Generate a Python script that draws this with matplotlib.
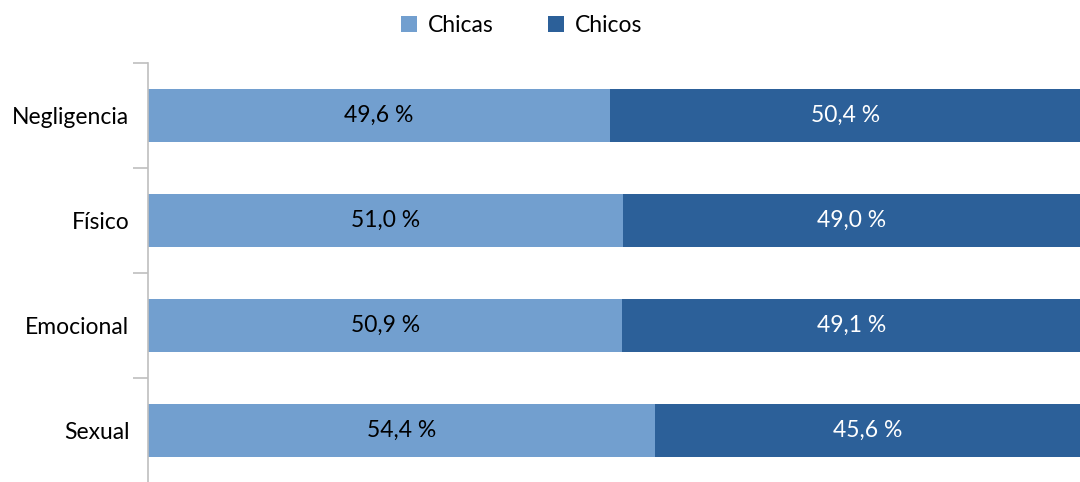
import numpy as np
import matplotlib.pyplot as plt

plt.rcParams['font.family'] = ['Lato', 'DejaVu Sans']

categories = ['Negligencia', 'Físico', 'Emocional', 'Sexual']
chicas = [49.6, 51.0, 50.9, 54.4]
chicos = [50.4, 49.0, 49.1, 45.6]

col_chicas = '#729FCF'
col_chicos = '#2C6099'
grey = '#BFBFBF'
fs = 16.5

fig = plt.figure(figsize=(10.8, 4.82), dpi=100)
ax = fig.add_axes([148 / 1080, -1 / 482, 932 / 1080, 420 / 482])

y = np.arange(len(categories))
h = 0.5
b1 = ax.barh(y, chicas, height=h, color=col_chicas, label='Chicas')
b2 = ax.barh(y, chicos, left=chicas, height=h, color=col_chicos, label='Chicos')

for i in range(len(categories)):
    ax.text(chicas[i] / 2, y[i], f'{chicas[i]:.1f} %'.replace('.', ','),
            ha='center', va='center', fontsize=fs, color='black')
    ax.text(chicas[i] + chicos[i] / 2, y[i], f'{chicos[i]:.1f} %'.replace('.', ','),
            ha='center', va='center', fontsize=fs, color='white')

ax.set_xlim(0, 100)
ax.set_ylim(len(categories) - 0.5, -0.5)
ax.set_yticks(y)
ax.set_yticklabels(categories, fontsize=fs)
ax.set_yticks(np.arange(len(categories) + 1) - 0.5, minor=True)
ax.tick_params(axis='y', which='major', length=0, pad=13.5)
ax.tick_params(axis='y', which='minor', length=11, color=grey, width=1.2)
ax.set_xticks([])
for s in ['top', 'right', 'bottom']:
    ax.spines[s].set_visible(False)
ax.spines['left'].set_color(grey)
ax.spines['left'].set_linewidth(1.2)

fig.legend(handles=[b1, b2], loc='upper center', bbox_to_anchor=(0.483, 1.012),
           ncol=2, frameon=False, fontsize=fs, handlelength=0.7, handleheight=0.7,
           columnspacing=2.4, handletextpad=0.45)

fig.savefig('out.png', dpi=100)
